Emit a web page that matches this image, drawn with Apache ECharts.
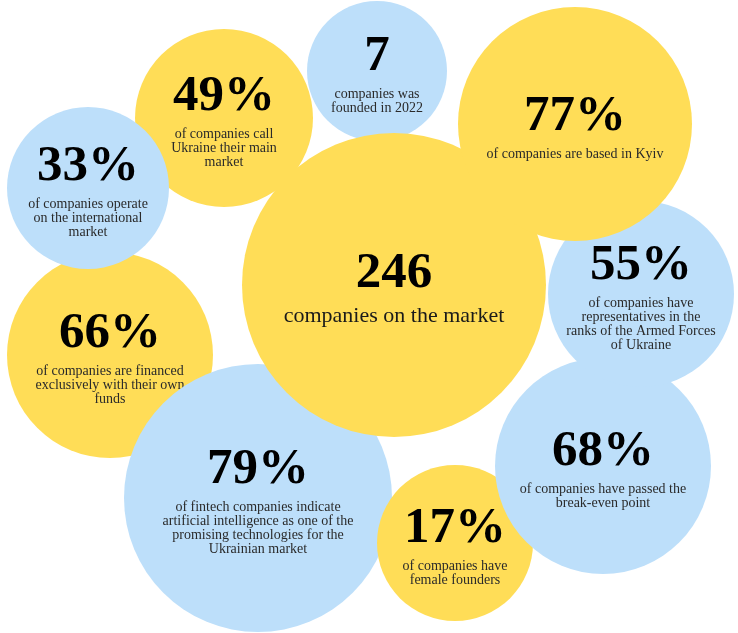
<!DOCTYPE html>
<html>
<head>
<meta charset="utf-8">
<title>Ukrainian fintech market in numbers</title>
<script src="https://cdn.jsdelivr.net/npm/echarts@6/dist/echarts.min.js"></script>
<style>
  html, body { margin: 0; padding: 0; background: #ffffff; }
  #chart { width: 738px; height: 633px; }
</style>
</head>
<body>
<div id="chart"></div>
<script>
// Headline figures, listed in drawing order (later bubbles sit on top)
const figures = ['49%', '66%', '33%', '7', '79%', '17%', '68%', '55%', '246', '77%'];

// Caption under each figure, one entry per line
const captions = [
  ['of companies call', 'Ukraine their main', 'market'],
  ['of companies are financed', 'exclusively with their own', 'funds'],
  ['of companies operate', 'on the international', 'market'],
  ['companies was', 'founded in 2022'],
  ['of fintech companies indicate', 'artificial intelligence as one of the', 'promising technologies for the', 'Ukrainian market'],
  ['of companies have', 'female founders'],
  ['of companies have passed the', 'break-even point'],
  ['of companies have', 'representatives in the', 'ranks of the Armed Forces', 'of Ukraine'],
  ['companies on the market'],
  ['of companies are based in Kyiv']
];

// Bubble layout in data units (x to the right, y downward) and bubble radius
const bubbleX = [224, 110, 88, 377, 258, 455, 603, 641, 394, 575];
const bubbleY = [118, 355, 188, 71, 498, 543, 466, 294, 285, 124];
const bubbleR = [89, 103, 81, 70, 134, 78, 108, 93, 152, 117];

// Colour group of each bubble
const tone = ['gold', 'gold', 'sky', 'sky', 'sky', 'gold', 'sky', 'sky', 'gold', 'gold'];

const PALETTE = { gold: '#FFDD57', sky: '#BDDFFA' };
const SERIF = '"Liberation Serif", "Times New Roman", serif';

const chart = echarts.init(document.getElementById('chart'), null, { renderer: 'canvas' });

const series = figures.map((fig, i) => {
  const isLead = fig === '246';
  const capStyle = isLead ? 'lead' : 'cap';
  const text = ['{num|' + fig + '}']
    .concat(captions[i].map(line => '{' + capStyle + '|' + line + '}'))
    .join('\n');
  return {
    type: 'scatter',
    name: fig,
    z: 2 + i,
    silent: true,
    symbol: 'circle',
    symbolSize: bubbleR[i] * 2,
    itemStyle: { color: PALETTE[tone[i]], opacity: 1 },
    data: [[bubbleX[i], bubbleY[i]]],
    label: {
      show: true,
      position: 'inside',
      formatter: () => text,
      align: 'center',
      rich: {
        num: {
          fontFamily: SERIF,
          fontWeight: 'bold',
          fontSize: 51,
          lineHeight: isLead ? 63 : 60,
          color: '#000000',
          align: 'center'
        },
        cap: {
          fontFamily: SERIF,
          fontSize: 14,
          lineHeight: 14,
          color: '#2a2a2a',
          align: 'center'
        },
        lead: {
          fontFamily: SERIF,
          fontSize: 22,
          lineHeight: 22,
          color: '#1a1a1a',
          align: 'center'
        }
      }
    },
    emphasis: { disabled: true }
  };
});

chart.setOption({
  animation: false,
  backgroundColor: '#ffffff',
  grid: { left: 0, right: 0, top: 0, bottom: 0 },
  xAxis: { type: 'value', min: 0, max: 738, show: false },
  yAxis: { type: 'value', min: 0, max: 633, inverse: true, show: false },
  series: series
});
</script>
</body>
</html>
